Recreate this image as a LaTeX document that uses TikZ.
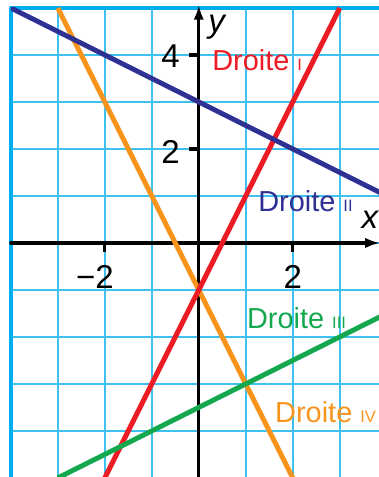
\documentclass[tikz,border=0pt]{standalone}
\usepackage{fontspec}
\setmainfont{Liberation Sans}
\usetikzlibrary{arrows.meta}
\definecolor{grille}{HTML}{3DC1F0}
\definecolor{cadre}{HTML}{00AEEF}
\definecolor{rougeD}{HTML}{ED1C24}
\definecolor{bleuD}{HTML}{2E3192}
\definecolor{vertD}{HTML}{13A84E}
\definecolor{orangeD}{HTML}{F7941D}
\newcommand\romain{\fontsize{10}{10}\selectfont}
\begin{document}
\begin{tikzpicture}[line join=round, line cap=round, >={Latex[length=3.2mm,width=2.2mm]},
	quadrillage/.style={grille, line width=0.9pt},
	droite/.style={line width=3pt, line cap=butt},
	axe/.style={line width=1.9pt, black},
	etiq/.style={font=\fontsize{17.5}{17.5}\selectfont, anchor=base west, inner sep=0pt},
	chiffre/.style={font=\fontsize{20}{20}\selectfont, inner sep=0pt}]
	\useasboundingbox (-4.23,-4.98) rectangle (3.83,5.17);
	\path
	(-4,0) coordinate (Xg) (3.86,0) coordinate (Xd)
	(0,-5) coordinate (Yb) (0,5.07) coordinate (Yh)
	(-2,-5) coordinate (R1) (3,5) coordinate (R2)
	(-4,5) coordinate (B1) (4,1) coordinate (B2)
	(-3,-5) coordinate (V1) (4,-1.5) coordinate (V2)
	(-3,5) coordinate (O1) (2,-5) coordinate (O2)
	;
	\begin{scope}
		\clip (-4,-4.98) rectangle (3.83,5);
		\draw[quadrillage] (-4,-5) grid (4,5);
	\end{scope}
	\draw[cadre, line width=2.4pt, line cap=butt] (-4,-4.98) -- (-4,5) -- (3.83,5);
	% axes
	\draw[axe, ->] (Xg) -- (Xd);
	\draw[axe, ->] (Yb) -- (Yh);
	\foreach \t in {-2,2}
	\draw[axe, line cap=butt] (\t,0) -- (\t,-0.2);
	\foreach \t in {2,4}
	\draw[axe, line cap=butt] (0,\t) -- (-0.2,\t);
	\node[chiffre] (t4) at (-0.6,3.98) {4};
	\node[chiffre] (t2) at (-0.6,1.94) {2};
	\node[chiffre] (tm2) at (-2.21,-0.72) {−2};
	\node[chiffre] (tp2) at (2,-0.72) {2};
	\node[font=\fontsize{20}{20}\selectfont\itshape, inner sep=0pt] (ly) at (0.38,4.6) {y};
	\node[font=\fontsize{20}{20}\selectfont\itshape, inner sep=0pt] (lx) at (3.64,0.49) {x};
	% droites
	\begin{scope}
		\clip (-4,-4.98) rectangle (3.83,5);
		\draw[droite, orangeD] (O1) -- (O2);
		\draw[droite, rougeD] (R1) -- (R2);
		\draw[droite, bleuD] (B1) -- (B2);
		\draw[droite, vertD] (V1) -- (V2);
	\end{scope}
	\node[etiq, rougeD] (dI) at (0.28,3.66) {Droite {\romain I}};
	\node[etiq, bleuD] (dII) at (1.26,0.66) {Droite {\romain II}};
	\node[etiq, vertD] (dIII) at (1.02,-1.81) {Droite {\romain III}};
	\node[etiq, orangeD] (dIV) at (1.62,-3.83) {Droite {\romain IV}};
\end{tikzpicture}
\end{document}
